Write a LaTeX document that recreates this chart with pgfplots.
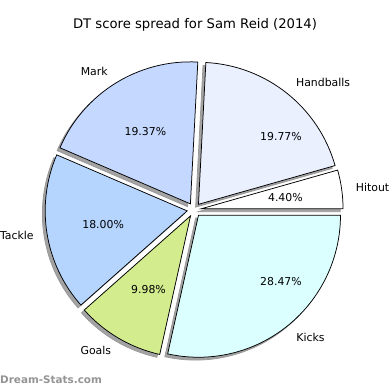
\documentclass[border=0pt]{standalone}
\usepackage{pgfplots}
\pgfplotsset{compat=1.18}
\usepackage{fontspec}
\setmainfont{DejaVu Sans}
\definecolor{cHit}{RGB}{255,255,255}
\definecolor{cHb}{RGB}{235,240,255}
\definecolor{cMk}{RGB}{197,216,255}
\definecolor{cTk}{RGB}{181,213,255}
\definecolor{cGl}{RGB}{210,236,142}
\definecolor{cKk}{RGB}{219,255,255}
% shares (percent)
\def\pHit{4.40}\def\pHb{19.77}\def\pMk{19.37}\def\pTk{18.00}\def\pGl{9.98}\def\pKk{28.47}
\newcommand\drawslice[5]{%
 \pgfmathsetmacro\sa{3.6*(#1)}%
 \pgfmathsetmacro\se{3.6*(#2)}%
 \pgfmathsetmacro\sm{(\sa+\se)/2}%
 \pgfmathsetmacro\ox{194.1+7*cos(\sm)+#4}%
 \pgfmathsetmacro\oy{180.2+7*sin(\sm)+#5}%
 \edef\tmp{\noexpand\filldraw[#3] (axis cs:\ox,\oy) -- ++(\sa:142pt) arc[start angle=\sa, end angle=\se, radius=142pt] -- cycle;}%
 \tmp}
\begin{document}
\begin{tikzpicture}
\useasboundingbox (0,0) rectangle (390pt,390pt);
\begin{axis}[at={(0,0)}, anchor=south west, x=1pt, y=1pt,
  xmin=0, xmax=390, ymin=0, ymax=390, enlargelimits=false,
  hide axis, clip=false]
% shadows
\def\shd{fill=black!36, draw=black!40, line width=0.75pt}
\drawslice{0}{\pHit}{\shd}{-2.84}{-2.84}
\drawslice{\pHit}{\pHit+\pHb}{\shd}{-2.84}{-2.84}
\drawslice{\pHit+\pHb}{\pHit+\pHb+\pMk}{\shd}{-2.84}{-2.84}
\drawslice{\pHit+\pHb+\pMk}{\pHit+\pHb+\pMk+\pTk}{\shd}{-2.84}{-2.84}
\drawslice{\pHit+\pHb+\pMk+\pTk}{\pHit+\pHb+\pMk+\pTk+\pGl}{\shd}{-2.84}{-2.84}
\drawslice{\pHit+\pHb+\pMk+\pTk+\pGl}{\pHit+\pHb+\pMk+\pTk+\pGl+\pKk}{\shd}{-2.84}{-2.84}
% wedges
\drawslice{0}{\pHit}{fill=cHit, draw=black, line width=0.75pt}{0}{0}
\drawslice{\pHit}{\pHit+\pHb}{fill=cHb, draw=black, line width=0.75pt}{0}{0}
\drawslice{\pHit+\pHb}{\pHit+\pHb+\pMk}{fill=cMk, draw=black, line width=0.75pt}{0}{0}
\drawslice{\pHit+\pHb+\pMk}{\pHit+\pHb+\pMk+\pTk}{fill=cTk, draw=black, line width=0.75pt}{0}{0}
\drawslice{\pHit+\pHb+\pMk+\pTk}{\pHit+\pHb+\pMk+\pTk+\pGl}{fill=cGl, draw=black, line width=0.75pt}{0}{0}
\drawslice{\pHit+\pHb+\pMk+\pTk+\pGl}{\pHit+\pHb+\pMk+\pTk+\pGl+\pKk}{fill=cKk, draw=black, line width=0.75pt}{0}{0}
% labels
\begin{scope}[every node/.style={font=\fontsize{10.9}{13}\selectfont, inner sep=0pt}]
\node[anchor=west] at (axis cs:355.7,202.7) {Hitout};
\node[anchor=west] at (axis cs:295.9,307.8) {Handballs};
\node[anchor=east] at (axis cs:107.9,318.8) {Mark};
\node[anchor=east] at (axis cs:33.8,154.3) {Tackle};
\node[anchor=east] at (axis cs:111.3,39.6) {Goals};
\node[anchor=west] at (axis cs:296.2,52.8) {Kicks};
\node at (axis cs:285.4,192.9) {4.40\%};
\node at (axis cs:281,253) {19.77\%};
\node at (axis cs:145.4,258.5) {19.37\%};
\node at (axis cs:103.1,165.6) {18.00\%};
\node at (axis cs:148.5,100.8) {9.98\%};
\node at (axis cs:281,108) {28.47\%};
\end{scope}
\node[font=\fontsize{13.2}{15}\selectfont, inner sep=0pt] at (axis cs:195,365) {DT score spread for Sam Reid (2014)};
\node[font=\bfseries\fontsize{10.4}{12}\selectfont, text=black!42, anchor=west, inner sep=0pt] at (axis cs:0,10) {Dream-Stats.com};
\end{axis}
\end{tikzpicture}
\end{document}
